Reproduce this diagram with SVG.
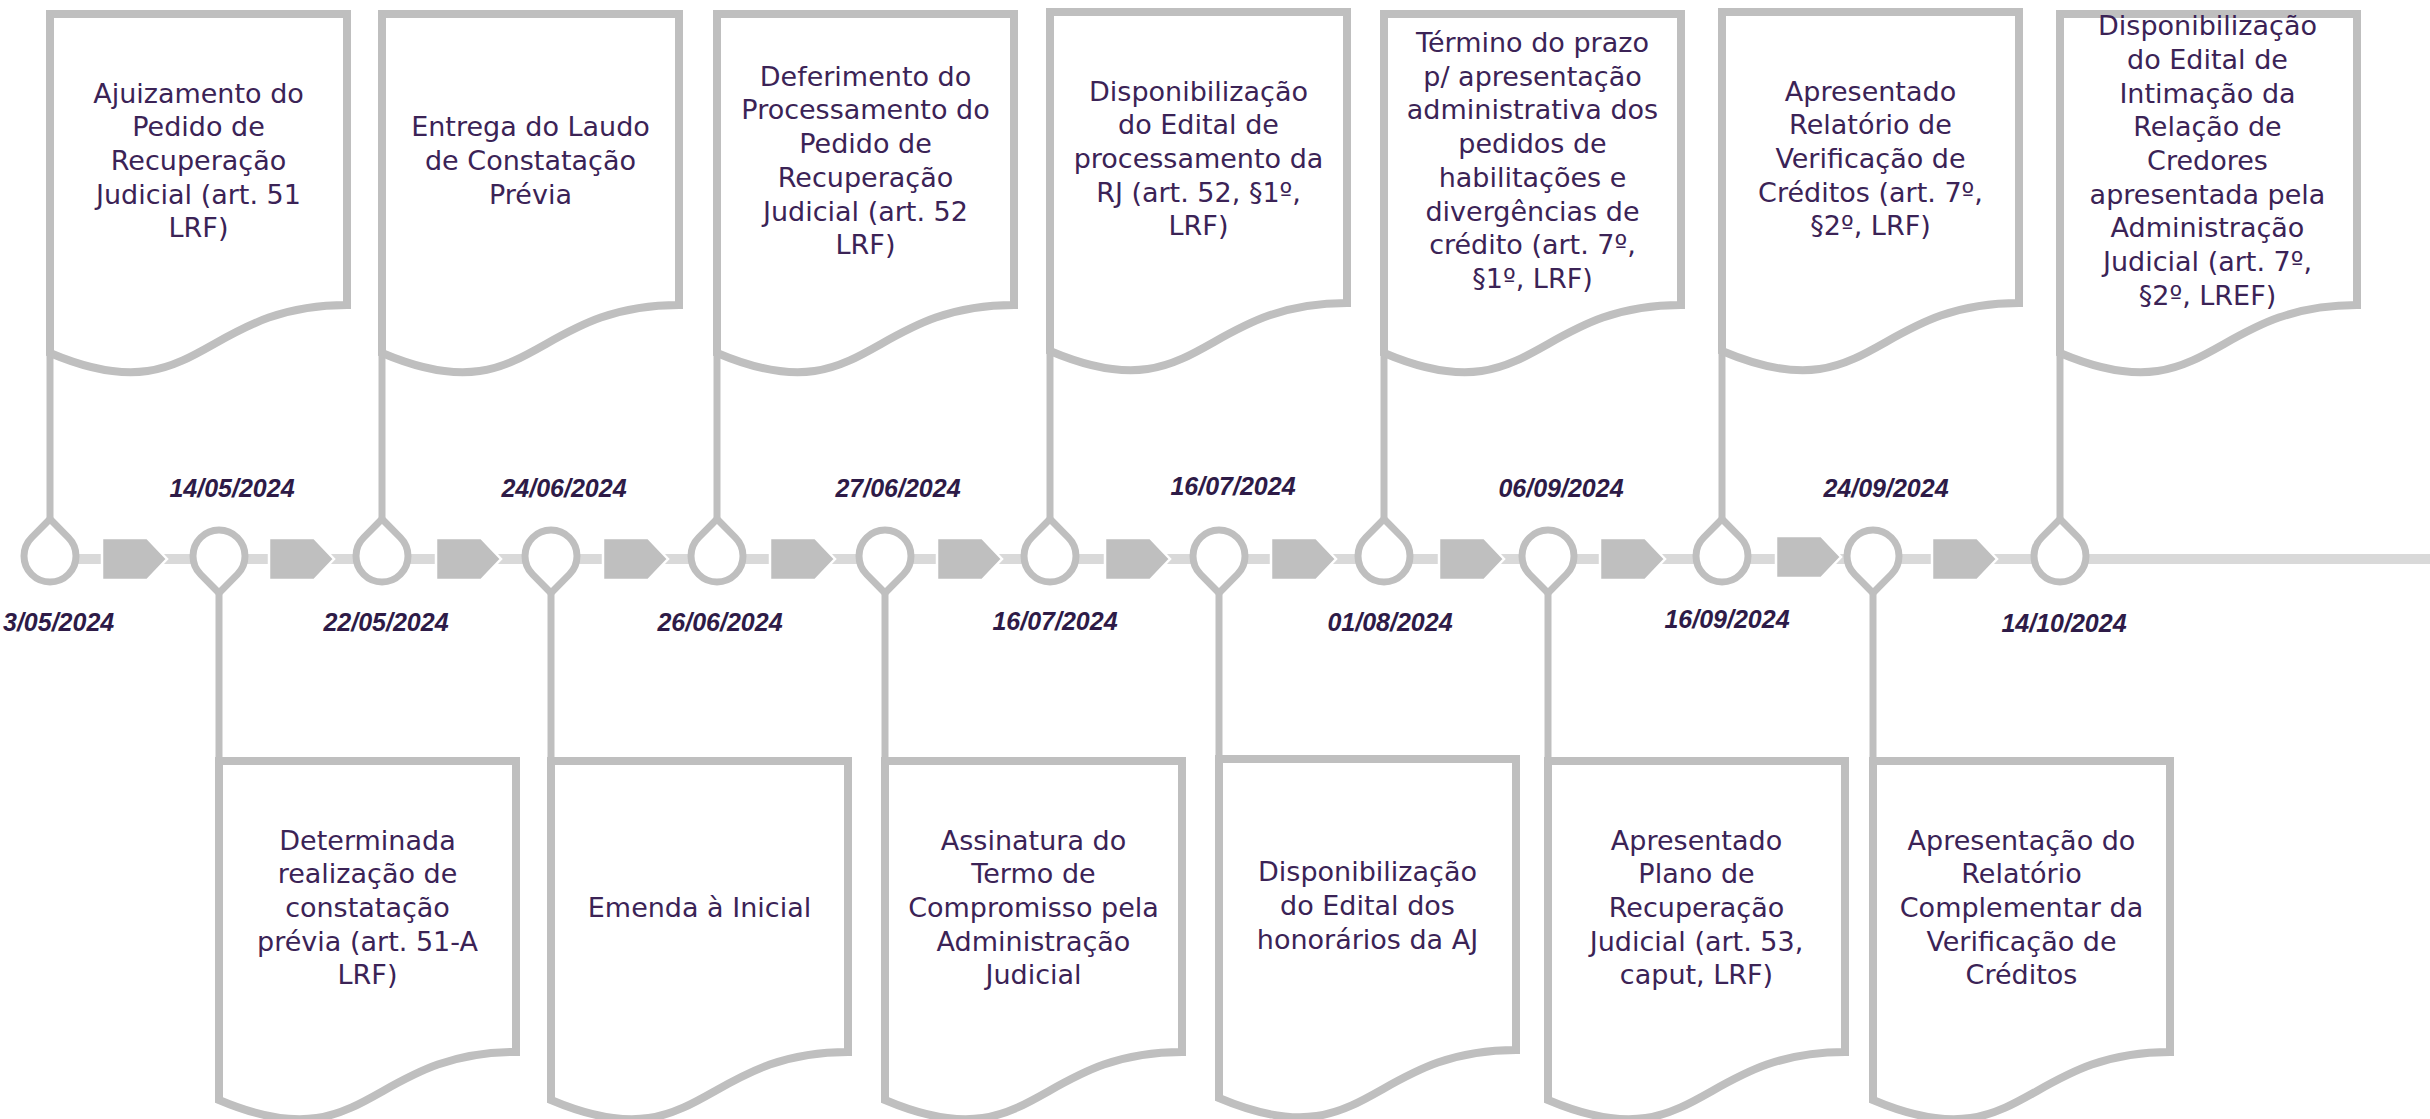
<svg xmlns="http://www.w3.org/2000/svg" xmlns:xlink="http://www.w3.org/1999/xlink" width="2430" height="1119" viewBox="0 0 2430 1119">
<style>
.doc{fill:#ffffff;stroke:#bfbfbf;stroke-width:8;stroke-linejoin:miter}
.t{font-family:"DejaVu Sans","Liberation Sans",sans-serif;font-size:27px;font-weight:normal;fill:#3b2356;text-anchor:middle}
.d{font-family:"Liberation Sans",Arial,sans-serif;font-size:25px;font-weight:bold;font-style:italic;fill:#2e1b47;text-anchor:middle}
.stem{stroke:#bfbfbf;stroke-width:7;fill:none}
.drop{fill:#ffffff;stroke:#bfbfbf;stroke-width:7}
.chev{fill:#bfbfbf;stroke:#ffffff;stroke-width:2.5}
.band{fill:#d9d9d9}
</style>
<defs>
<path id="doc" d="M0,0 L297,0 L297,291 C148.5,291 148.5,402 0,339 Z"/>
<path id="dropUp" d="M0,-37 L18.4,-18.4 A26 26 0 1 1 -18.4,-18.4 Z"/>
<path id="dropDown" d="M0,37 L-18.4,18.4 A26 26 0 1 1 18.4,18.4 Z"/>
<path id="chevron" d="M0,-21 L45,-21 L65,0 L45,21 L0,21 Z"/>
</defs>

<g id="connectors">
<rect class="band" x="50" y="554" width="2380" height="10"/>
<line class="stem" x1="50" y1="330" x2="50" y2="519"/>
<line class="stem" x1="382" y1="330" x2="382" y2="519"/>
<line class="stem" x1="717" y1="330" x2="717" y2="519"/>
<line class="stem" x1="1050" y1="330" x2="1050" y2="519"/>
<line class="stem" x1="1384" y1="330" x2="1384" y2="519"/>
<line class="stem" x1="1722" y1="330" x2="1722" y2="519"/>
<line class="stem" x1="2060" y1="330" x2="2060" y2="519"/>
<line class="stem" x1="219" y1="593" x2="219" y2="770"/>
<line class="stem" x1="551" y1="593" x2="551" y2="770"/>
<line class="stem" x1="885" y1="593" x2="885" y2="770"/>
<line class="stem" x1="1219" y1="593" x2="1219" y2="770"/>
<line class="stem" x1="1548" y1="593" x2="1548" y2="770"/>
<line class="stem" x1="1873" y1="593" x2="1873" y2="770"/>
<use class="chev" href="#chevron" x="102" y="559"/>
<use class="chev" href="#chevron" x="269" y="559"/>
<use class="chev" href="#chevron" x="436" y="559"/>
<use class="chev" href="#chevron" x="603" y="559"/>
<use class="chev" href="#chevron" x="770" y="559"/>
<use class="chev" href="#chevron" x="937" y="559"/>
<use class="chev" href="#chevron" x="1105" y="559"/>
<use class="chev" href="#chevron" x="1271" y="559"/>
<use class="chev" href="#chevron" x="1439" y="559"/>
<use class="chev" href="#chevron" x="1600" y="559"/>
<use class="chev" href="#chevron" x="1776" y="557"/>
<use class="chev" href="#chevron" x="1932" y="559"/>
</g>

<g id="markers">
<use class="drop" href="#dropUp" x="50" y="556"/>
<use class="drop" href="#dropDown" x="219" y="556"/>
<use class="drop" href="#dropUp" x="382" y="556"/>
<use class="drop" href="#dropDown" x="551" y="556"/>
<use class="drop" href="#dropUp" x="717" y="556"/>
<use class="drop" href="#dropDown" x="885" y="556"/>
<use class="drop" href="#dropUp" x="1050" y="556"/>
<use class="drop" href="#dropDown" x="1219" y="556"/>
<use class="drop" href="#dropUp" x="1384" y="556"/>
<use class="drop" href="#dropDown" x="1548" y="556"/>
<use class="drop" href="#dropUp" x="1722" y="556"/>
<use class="drop" href="#dropDown" x="1873" y="556"/>
<use class="drop" href="#dropUp" x="2060" y="556"/>
</g>

<g id="dates">
<text class="d" x="232" y="497">14/05/2024</text>
<text class="d" x="564" y="497">24/06/2024</text>
<text class="d" x="898" y="497">27/06/2024</text>
<text class="d" x="1233" y="495">16/07/2024</text>
<text class="d" x="1561" y="497">06/09/2024</text>
<text class="d" x="1886" y="497">24/09/2024</text>
<text class="d" x="3" y="631" style="text-anchor:start">3/05/2024</text>
<text class="d" x="386" y="631">22/05/2024</text>
<text class="d" x="720" y="631">26/06/2024</text>
<text class="d" x="1055" y="630">16/07/2024</text>
<text class="d" x="1390" y="631">01/08/2024</text>
<text class="d" x="1727" y="628">16/09/2024</text>
<text class="d" x="2064" y="632">14/10/2024</text>
</g>

<g id="event-1">
<use class="doc" href="#doc" x="50" y="14"/>
<text class="t" x="198.5" y="102.6"><tspan x="198.5">Ajuizamento do</tspan><tspan x="198.5" dy="33.7">Pedido de</tspan><tspan x="198.5" dy="33.7">Recuperação</tspan><tspan x="198.5" dy="33.7">Judicial (art. 51</tspan><tspan x="198.5" dy="33.7">LRF)</tspan></text>
</g>
<g id="event-2">
<use class="doc" href="#doc" x="219" y="761"/>
<text class="t" x="367.5" y="849.6"><tspan x="367.5">Determinada</tspan><tspan x="367.5" dy="33.7">realização de</tspan><tspan x="367.5" dy="33.7">constatação</tspan><tspan x="367.5" dy="33.7">prévia (art. 51-A</tspan><tspan x="367.5" dy="33.7">LRF)</tspan></text>
</g>
<g id="event-3">
<use class="doc" href="#doc" x="382" y="14"/>
<text class="t" x="530.5" y="136.3"><tspan x="530.5">Entrega do Laudo</tspan><tspan x="530.5" dy="33.7">de Constatação</tspan><tspan x="530.5" dy="33.7">Prévia</tspan></text>
</g>
<g id="event-4">
<use class="doc" href="#doc" x="551" y="761"/>
<text class="t" x="699.5" y="917">Emenda à Inicial</text>
</g>
<g id="event-5">
<use class="doc" href="#doc" x="717" y="14"/>
<text class="t" x="865.5" y="85.75"><tspan x="865.5">Deferimento do</tspan><tspan x="865.5" dy="33.7">Processamento do</tspan><tspan x="865.5" dy="33.7">Pedido de</tspan><tspan x="865.5" dy="33.7">Recuperação</tspan><tspan x="865.5" dy="33.7">Judicial (art. 52</tspan><tspan x="865.5" dy="33.7">LRF)</tspan></text>
</g>
<g id="event-6">
<use class="doc" href="#doc" x="885" y="761"/>
<text class="t" x="1033.5" y="849.6"><tspan x="1033.5">Assinatura do</tspan><tspan x="1033.5" dy="33.7">Termo de</tspan><tspan x="1033.5" dy="33.7">Compromisso pela</tspan><tspan x="1033.5" dy="33.7">Administração</tspan><tspan x="1033.5" dy="33.7">Judicial</tspan></text>
</g>
<g id="event-7">
<use class="doc" href="#doc" x="1050" y="12"/>
<text class="t" x="1198.5" y="100.6"><tspan x="1198.5">Disponibilização</tspan><tspan x="1198.5" dy="33.7">do Edital de</tspan><tspan x="1198.5" dy="33.7">processamento da</tspan><tspan x="1198.5" dy="33.7">RJ (art. 52, §1º,</tspan><tspan x="1198.5" dy="33.7">LRF)</tspan></text>
</g>
<g id="event-8">
<use class="doc" href="#doc" x="1219" y="759"/>
<text class="t" x="1367.5" y="881.3"><tspan x="1367.5">Disponibilização</tspan><tspan x="1367.5" dy="33.7">do Edital dos</tspan><tspan x="1367.5" dy="33.7">honorários da AJ</tspan></text>
</g>
<g id="event-9">
<use class="doc" href="#doc" x="1384" y="14"/>
<text class="t" x="1532.5" y="52.05"><tspan x="1532.5">Término do prazo</tspan><tspan x="1532.5" dy="33.7">p/ apresentação</tspan><tspan x="1532.5" dy="33.7">administrativa dos</tspan><tspan x="1532.5" dy="33.7">pedidos de</tspan><tspan x="1532.5" dy="33.7">habilitações e</tspan><tspan x="1532.5" dy="33.7">divergências de</tspan><tspan x="1532.5" dy="33.7">crédito (art. 7º,</tspan><tspan x="1532.5" dy="33.7">§1º, LRF)</tspan></text>
</g>
<g id="event-10">
<use class="doc" href="#doc" x="1548" y="761"/>
<text class="t" x="1696.5" y="849.6"><tspan x="1696.5">Apresentado</tspan><tspan x="1696.5" dy="33.7">Plano de</tspan><tspan x="1696.5" dy="33.7">Recuperação</tspan><tspan x="1696.5" dy="33.7">Judicial (art. 53,</tspan><tspan x="1696.5" dy="33.7">caput, LRF)</tspan></text>
</g>
<g id="event-11">
<use class="doc" href="#doc" x="1722" y="12"/>
<text class="t" x="1870.5" y="100.6"><tspan x="1870.5">Apresentado</tspan><tspan x="1870.5" dy="33.7">Relatório de</tspan><tspan x="1870.5" dy="33.7">Verificação de</tspan><tspan x="1870.5" dy="33.7">Créditos (art. 7º,</tspan><tspan x="1870.5" dy="33.7">§2º, LRF)</tspan></text>
</g>
<g id="event-12">
<use class="doc" href="#doc" x="1873" y="761"/>
<text class="t" x="2021.5" y="849.6"><tspan x="2021.5">Apresentação do</tspan><tspan x="2021.5" dy="33.7">Relatório</tspan><tspan x="2021.5" dy="33.7">Complementar da</tspan><tspan x="2021.5" dy="33.7">Verificação de</tspan><tspan x="2021.5" dy="33.7">Créditos</tspan></text>
</g>
<g id="event-13">
<use class="doc" href="#doc" x="2060" y="14"/>
<text class="t" x="2207.5" y="35.2"><tspan x="2207.5">Disponibilização</tspan><tspan x="2207.5" dy="33.7">do Edital de</tspan><tspan x="2207.5" dy="33.7">Intimação da</tspan><tspan x="2207.5" dy="33.7">Relação de</tspan><tspan x="2207.5" dy="33.7">Credores</tspan><tspan x="2207.5" dy="33.7">apresentada pela</tspan><tspan x="2207.5" dy="33.7">Administração</tspan><tspan x="2207.5" dy="33.7">Judicial (art. 7º,</tspan><tspan x="2207.5" dy="33.7">§2º, LREF)</tspan></text>
</g>
</svg>
